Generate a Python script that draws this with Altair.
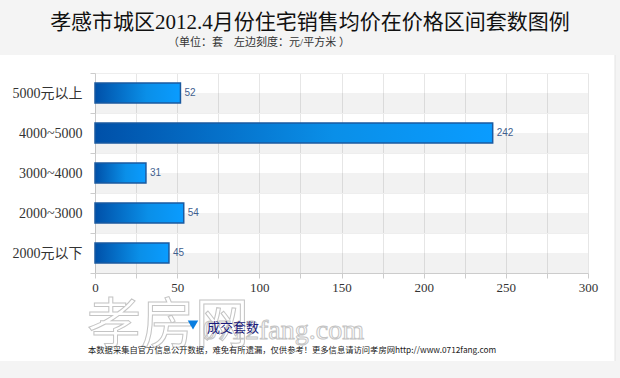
import altair as alt
import pandas as pd

categories = ["5000元以上", "4000~5000", "3000~4000", "2000~3000", "2000元以下"]
counts = [52, 242, 31, 54, 45]
x_grid_ticks = [0, 25, 50, 75, 100, 125, 150, 175, 200, 225, 250, 275, 300]
x_label_ticks = [0, 50, 100, 150, 200, 250, 300]

title_text = "孝感市城区2012.4月份住宅销售均价在价格区间套数图例"
subtitle_text = "（单位：套　左边刻度：元/平方米 ）"
legend_text = "成交套数"
footer_text = "本数据采集自官方信息公开数据，难免有所遗漏，仅供参考！更多信息请访问孝房网http://www.0712fang.com"

df = pd.DataFrame({"cat": categories, "n": counts})

SERIF = "Liberation Serif, 'Noto Sans CJK SC', serif"
CJK = "'Noto Sans CJK SC', sans-serif"

W, H = 493, 200

yenc = alt.Y("cat:N", sort=categories, scale=alt.Scale(paddingInner=0, paddingOuter=0),
             axis=alt.Axis(title=None, labelFont=SERIF, labelFontSize=14, labelColor="#333333",
                           labelPadding=8, domainColor="#cccccc", tickColor="#cccccc",
                           tickBand="extent", tickSize=5, grid=True, gridColor="#eeeeee"))
xscale = alt.Scale(domain=[0, 300], nice=False)
xaxis_grid = alt.Axis(title=None, values=x_grid_ticks, labels=False, orient="bottom",
                      domainColor="#cccccc", tickColor="#cccccc", tickSize=5,
                      grid=True, gridColor="#e6e6e6")
xaxis_lbl = alt.Axis(title=None, values=x_label_ticks, orient="bottom", ticks=False, domain=False,
                     grid=False, labelFont=SERIF, labelFontSize=13, labelColor="#333333",
                     labelPadding=8, labelFlush=False, labelOverlap=False)

base = alt.Chart(df)

stripes = base.mark_bar(size=20, yOffset=10, color="#000000", opacity=0.05).encode(
    y=yenc, x=alt.X(datum=0, type="quantitative", scale=xscale, axis=xaxis_grid),
    x2=alt.X2(datum=300))

grad = alt.LinearGradient(gradient="linear", x1=0, x2=1, y1=0, y2=0,
                          stops=[alt.GradientStop(color="#0050a8", offset=0),
                                 alt.GradientStop(color="#0a8fe8", offset=0.6),
                                 alt.GradientStop(color="#0a9cff", offset=1)])
bars = base.mark_bar(size=20, fill=grad, stroke="#1a5aa0", strokeWidth=1.5).encode(
    y=alt.Y("cat:N", sort=categories),
    x=alt.X("n:Q", scale=xscale, axis=xaxis_lbl))

labels = base.mark_text(align="left", dx=4, fontSize=10, font="Liberation Sans, sans-serif",
                        color="#3f5f8f").encode(
    y=alt.Y("cat:N", sort=categories), x=alt.X("n:Q", scale=xscale, axis=None), text="n:Q")

one = alt.Data(values=[{}])

top_band = alt.Chart(one).mark_rect(color="#f4f4f4").encode(
    x=alt.value(-95), x2=alt.value(520), y=alt.value(-73), y2=alt.value(-18))
bottom_band = alt.Chart(one).mark_rect(color="#f4f4f4").encode(
    x=alt.value(-95), x2=alt.value(525), y=alt.value(288), y2=alt.value(305))
right_band = alt.Chart(one).mark_rect(color="#f4f4f4").encode(
    x=alt.value(520), x2=alt.value(525), y=alt.value(-73), y2=alt.value(305))
right_line = alt.Chart(one).mark_rule(color="#e4e4e4").encode(
    x=alt.value(520), y=alt.value(-18), y2=alt.value(288))

title = alt.Chart(one).mark_text(fontSize=21, font=SERIF, color="#111111").encode(
    x=alt.value(215), y=alt.value(-50), text=alt.value(title_text))
subtitle = alt.Chart(one).mark_text(fontSize=11, font=SERIF, color="#333333").encode(
    x=alt.value(164), y=alt.value(-30), text=alt.value(subtitle_text))

wm1 = alt.Chart(one).mark_text(fontSize=54, font=CJK, fill="#ffffff", fillOpacity=0.15,
                               stroke="#c4c4c4", strokeWidth=1, align="left").encode(
    x=alt.value(-8), y=alt.value(254), text=alt.value("孝房网"))
wm2 = alt.Chart(one).mark_text(fontSize=28, font=SERIF, fill="#ffffff", fillOpacity=0.15,
                               stroke="#c4c4c4", strokeWidth=1, align="left").encode(
    x=alt.value(108), y=alt.value(258), text=alt.value("0712fang.com"))

legend_mark = alt.Chart(one).mark_point(shape="triangle-down", filled=True, size=110,
                                        color="#0a7ee0", opacity=1).encode(
    x=alt.value(98), y=alt.value(252))
legend_lbl = alt.Chart(one).mark_text(fontSize=13, font=SERIF, color="#1a1a7a", align="left").encode(
    x=alt.value(112), y=alt.value(255), text=alt.value(legend_text))

footer = alt.Chart(one).mark_text(fontSize=8.3, font=CJK, color="#222222", align="left").encode(
    x=alt.value(-7), y=alt.value(278), text=alt.value(footer_text))

chart = alt.layer(top_band, bottom_band, right_band, right_line, stripes, bars, labels,
                  title, subtitle, wm1, wm2, legend_mark, legend_lbl, footer).resolve_axis(
    x="independent").properties(
    width=W, height=H,
    autosize=alt.AutoSizeParams(type="none"),
    padding={"left": 95, "top": 73, "right": 32, "bottom": 105},
    background="#ffffff",
).configure_view(stroke=None)

chart.save("out.html", embed_options={"renderer": "svg", "actions": False})
